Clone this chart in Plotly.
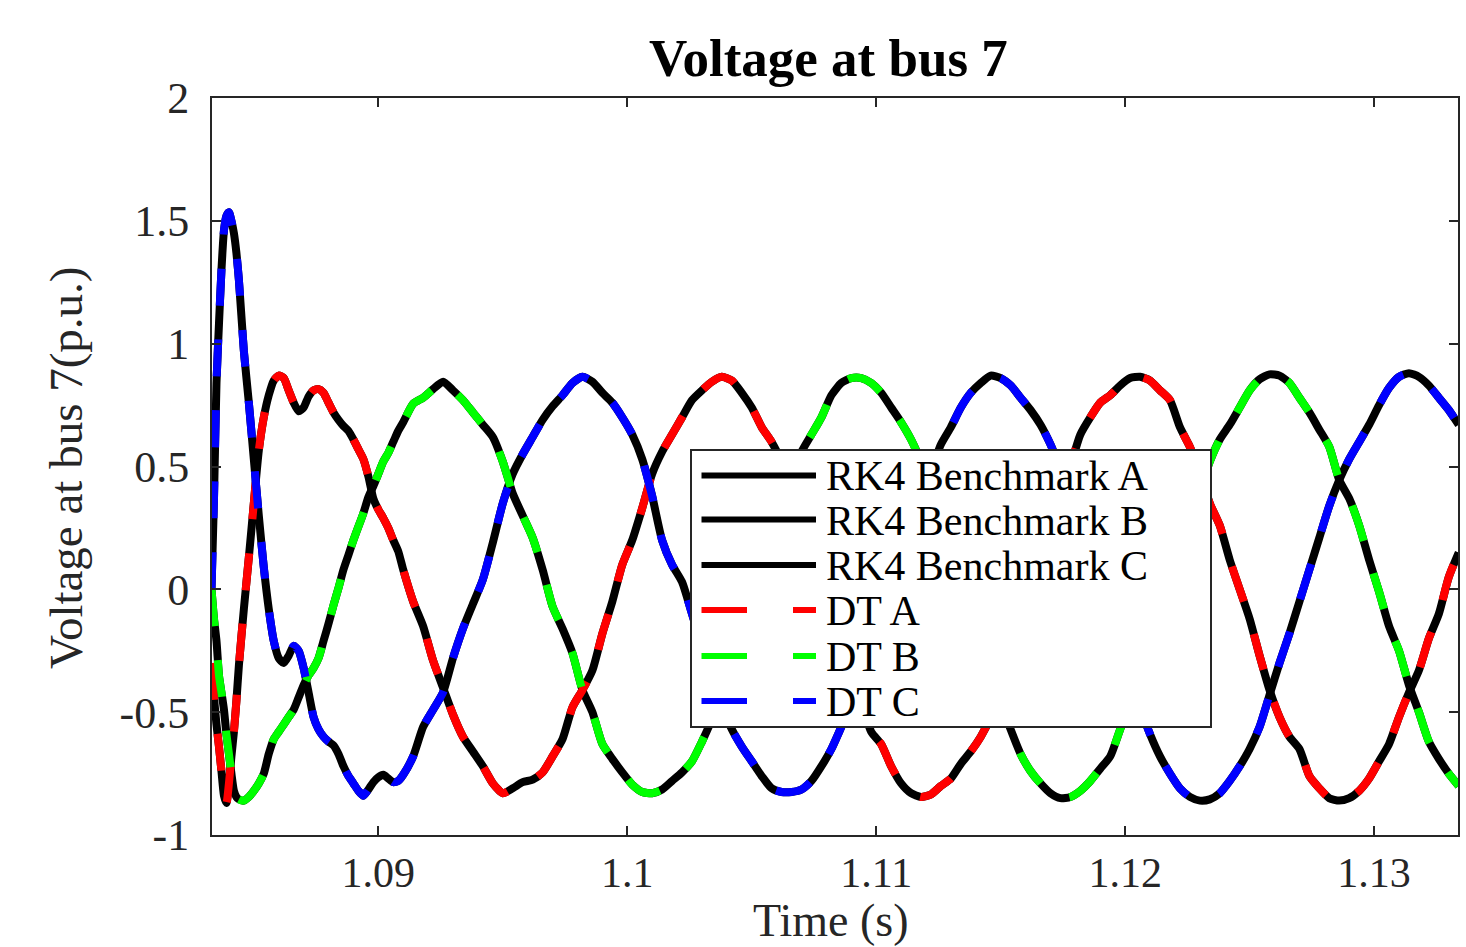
import plotly.graph_objects as go

# ---------------- data ----------------
t_fine = [1.0833, 1.0834, 1.0835, 1.0836, 1.0837, 1.0838, 1.0839, 1.0840, 1.0841, 1.0842, 1.0843, 1.0844]
t_mid = [1.0846, 1.0848, 1.0850, 1.0852, 1.0854, 1.0856, 1.0858, 1.0860, 1.0862, 1.0864,
         1.0866, 1.0868, 1.0870, 1.0872, 1.0874, 1.0876, 1.0878, 1.0880, 1.0882, 1.0884,
         1.0886, 1.0888, 1.0890, 1.0892, 1.0894, 1.0896, 1.0898, 1.0900, 1.0902, 1.0904,
         1.0906, 1.0908, 1.0910]
t_steady = [1.0914, 1.0918, 1.0922, 1.0926, 1.0930, 1.0934, 1.0938, 1.0942, 1.0946, 1.0950,
            1.0954, 1.0958, 1.0962, 1.0966, 1.0970, 1.0974, 1.0978, 1.0982, 1.0986, 1.0990,
            1.0994, 1.0998, 1.1002, 1.1006, 1.1010, 1.1014, 1.1018, 1.1022, 1.1026, 1.1030,
            1.1034, 1.1038, 1.1042, 1.1046, 1.1050, 1.1054, 1.1058, 1.1062, 1.1066, 1.1070,
            1.1074, 1.1078, 1.1082, 1.1086, 1.1090, 1.1094, 1.1098, 1.1102, 1.1106, 1.1110,
            1.1114, 1.1118, 1.1122, 1.1126, 1.1130, 1.1134, 1.1138, 1.1142, 1.1146, 1.1150,
            1.1154, 1.1158, 1.1162, 1.1166, 1.1170, 1.1174, 1.1178, 1.1182, 1.1186, 1.1190,
            1.1194, 1.1198, 1.1202, 1.1206, 1.1210, 1.1214, 1.1218, 1.1222, 1.1226, 1.1230,
            1.1234, 1.1238, 1.1242, 1.1246, 1.1250, 1.1254, 1.1258, 1.1262, 1.1266, 1.1270,
            1.1274, 1.1278, 1.1282, 1.1286, 1.1290, 1.1294, 1.1298, 1.1302, 1.1306, 1.1310,
            1.1314, 1.1318, 1.1322, 1.1326, 1.1330, 1.1334]

# Phase A (red)
va_fine = [-0.30, -0.44, -0.55, -0.64, -0.74, -0.84, -0.87, -0.79, -0.68, -0.58, -0.455, -0.31]
va_mid = [-0.08, 0.13, 0.35, 0.565, 0.70, 0.79, 0.85, 0.87, 0.86, 0.81,
          0.76, 0.725, 0.74, 0.785, 0.81, 0.815, 0.80, 0.76, 0.72, 0.69,
          0.665, 0.645, 0.61, 0.57, 0.53, 0.46, 0.37, 0.325, 0.29, 0.25,
          0.20, 0.155, 0.08]
va_steady = [-0.05, -0.15, -0.29, -0.40, -0.51, -0.60, -0.66, -0.72, -0.79, -0.83,
             -0.81, -0.785, -0.775, -0.745, -0.68, -0.61, -0.48, -0.41, -0.33, -0.18,
             -0.05, 0.10, 0.20, 0.33, 0.47, 0.56, 0.63, 0.70, 0.77, 0.81,
             0.845, 0.865, 0.85, 0.80, 0.74, 0.66, 0.60, 0.52, 0.42, 0.30,
             0.18, 0.06, -0.07, -0.20, -0.33, -0.46, -0.58, -0.63, -0.72, -0.79,
             -0.83, -0.845, -0.835, -0.80, -0.77, -0.71, -0.66, -0.60, -0.52, -0.41,
             -0.29, -0.16, -0.03, 0.10, 0.23, 0.36, 0.50, 0.63, 0.70, 0.76,
             0.79, 0.83, 0.86, 0.865, 0.85, 0.81, 0.77, 0.66, 0.58, 0.48,
             0.35, 0.26, 0.12, 0.00, -0.12, -0.27, -0.41, -0.52, -0.60, -0.65,
             -0.76, -0.81, -0.85, -0.86, -0.85, -0.82, -0.77, -0.70, -0.63, -0.52,
             -0.42, -0.33, -0.20, -0.10, 0.05, 0.15]

# Phase B (green)
vb_fine = [0.0, -0.12, -0.21, -0.35, -0.42, -0.49, -0.59, -0.67, -0.75, -0.82, -0.845, -0.855]
vb_mid = [-0.86, -0.845, -0.82, -0.79, -0.75, -0.67, -0.61, -0.58, -0.55, -0.52,
          -0.49, -0.44, -0.39, -0.35, -0.32, -0.28, -0.21, -0.14, -0.065, 0.005,
          0.08, 0.14, 0.20, 0.255, 0.31, 0.375, 0.42, 0.47, 0.52, 0.555,
          0.60, 0.645, 0.68]
vb_steady = [0.755, 0.78, 0.815, 0.845, 0.81, 0.77, 0.72, 0.67, 0.62, 0.52,
             0.39, 0.30, 0.21, 0.08, -0.07, -0.16, -0.26, -0.41, -0.50, -0.63,
             -0.69, -0.745, -0.795, -0.825, -0.83, -0.815, -0.78, -0.745, -0.70, -0.62,
             -0.53, -0.43, -0.31, -0.18, -0.05, 0.08, 0.21, 0.33, 0.45, 0.56,
             0.63, 0.70, 0.79, 0.84, 0.86, 0.86, 0.84, 0.80, 0.74, 0.68,
             0.61, 0.52, 0.41, 0.29, 0.16, 0.03, -0.10, -0.22, -0.34, -0.46,
             -0.57, -0.67, -0.74, -0.79, -0.83, -0.85, -0.845, -0.82, -0.78, -0.73,
             -0.68, -0.57, -0.47, -0.36, -0.24, -0.11, 0.02, 0.15, 0.28, 0.40,
             0.52, 0.61, 0.67, 0.74, 0.81, 0.855, 0.875, 0.87, 0.84, 0.78,
             0.72, 0.65, 0.58, 0.445, 0.37, 0.26, 0.12, -0.01, -0.15, -0.25,
             -0.39, -0.50, -0.62, -0.69, -0.75, -0.80]

# Phase C (blue)
vc_fine = [0.0, 0.37, 0.84, 1.08, 1.30, 1.46, 1.52, 1.535, 1.50, 1.45, 1.37, 1.26]
vc_mid = [0.97, 0.76, 0.53, 0.30, 0.09, -0.08, -0.21, -0.28, -0.30, -0.27,
          -0.23, -0.25, -0.32, -0.42, -0.52, -0.57, -0.60, -0.62, -0.635, -0.67,
          -0.72, -0.76, -0.79, -0.82, -0.84, -0.815, -0.785, -0.765, -0.755, -0.77,
          -0.785, -0.78, -0.755]
vc_steady = [-0.68, -0.56, -0.49, -0.42, -0.28, -0.16, -0.06, 0.04, 0.19, 0.35,
             0.47, 0.55, 0.62, 0.69, 0.745, 0.79, 0.84, 0.865, 0.845, 0.80,
             0.76, 0.70, 0.63, 0.53, 0.38, 0.20, 0.10, 0.03, -0.10, -0.23,
             -0.35, -0.47, -0.57, -0.64, -0.70, -0.76, -0.81, -0.825, -0.825, -0.815,
             -0.78, -0.72, -0.65, -0.56, -0.47, -0.37, -0.26, -0.13, -0.01, 0.11,
             0.24, 0.36, 0.48, 0.59, 0.66, 0.74, 0.80, 0.84, 0.87, 0.86,
             0.83, 0.78, 0.73, 0.67, 0.59, 0.49, 0.38, 0.26, 0.14, 0.01,
             -0.12, -0.24, -0.36, -0.48, -0.59, -0.68, -0.75, -0.81, -0.845, -0.86,
             -0.855, -0.83, -0.78, -0.72, -0.65, -0.56, -0.43, -0.30, -0.18, -0.05,
             0.08, 0.21, 0.34, 0.445, 0.53, 0.60, 0.67, 0.75, 0.82, 0.865,
             0.88, 0.865, 0.83, 0.78, 0.73, 0.67]

time = t_fine + t_mid + t_steady
phase_a = va_fine + va_mid + va_steady
phase_b = vb_fine + vb_mid + vb_steady
phase_c = vc_fine + vc_mid + vc_steady
for arr in (phase_a, phase_b, phase_c):
    assert len(arr) == len(time), (len(arr), len(time))

x_tickvals = [1.09, 1.10, 1.11, 1.12, 1.13]
x_ticktext = ["1.09", "1.1", "1.11", "1.12", "1.13"]
y_tickvals = [-1, -0.5, 0, 0.5, 1, 1.5, 2]
y_ticktext = ["-1", "-0.5", "0", "0.5", "1", "1.5", "2"]

legend_names = ["RK4 Benchmark A", "RK4 Benchmark B", "RK4 Benchmark C", "DT A", "DT B", "DT C"]
dt_colors = ["#ff0000", "#00ff00", "#0000ff"]

# ---------------- layout helpers ----------------
W, H = 1466, 947
L, R, T, B = 212, 8, 98, 112
FONT = "Liberation Serif, Times New Roman, serif"
AX = "#262626"


def px(xp):
    return (xp - L) / (W - L - R)


def py(yp):
    return (H - B - yp) / (H - T - B)


fig = go.Figure()
series = [phase_a, phase_b, phase_c]
for name, vals in zip(legend_names[:3], series):
    fig.add_trace(go.Scatter(x=time, y=vals, mode="lines", name=name, showlegend=False,
                             line=dict(color="black", width=8, shape="spline", smoothing=0.6)))
for name, vals, col in zip(legend_names[3:], series, dt_colors):
    fig.add_trace(go.Scatter(x=time, y=vals, mode="lines", name=name, showlegend=False,
                             line=dict(color=col, width=8, dash="37px,34px",
                                       shape="spline", smoothing=0.6)))

axis_common = dict(showline=True, linecolor=AX, linewidth=2, mirror="ticks",
                   ticks="inside", ticklen=9, tickwidth=2, tickcolor=AX,
                   showgrid=False, zeroline=False)

fig.update_xaxes(range=[1.08332, 1.13337], tickvals=x_tickvals, ticktext=x_ticktext,
                 ticklabelstandoff=0, tickfont=dict(family=FONT, size=42, color="#262626"),
                 **axis_common)
fig.update_yaxes(range=[-1, 2], tickvals=y_tickvals, ticktext=y_ticktext,
                 ticklabelstandoff=12, tickfont=dict(family=FONT, size=44, color="#262626"),
                 **axis_common)

shapes = []
annotations = []
# legend box
shapes.append(dict(type="rect", xref="paper", yref="paper", x0=px(691), x1=px(1211),
                   y0=py(727), y1=py(450), fillcolor="white", line=dict(color=AX, width=2),
                   layer="above"))
row_y = [475.5, 519.5, 565.0, 610.0, 656.0, 701.0]
for i, name in enumerate(legend_names):
    yy = py(row_y[i])
    if i < 3:
        shapes.append(dict(type="line", xref="paper", yref="paper", x0=px(701.5), x1=px(816),
                           y0=yy, y1=yy, line=dict(color="black", width=6), layer="above"))
    else:
        col = dt_colors[i - 3]
        shapes.append(dict(type="line", xref="paper", yref="paper", x0=px(701.5), x1=px(747),
                           y0=yy, y1=yy, line=dict(color=col, width=6), layer="above"))
        shapes.append(dict(type="line", xref="paper", yref="paper", x0=px(793), x1=px(816),
                           y0=yy, y1=yy, line=dict(color=col, width=6), layer="above"))
    annotations.append(dict(text=name, xref="paper", yref="paper", x=px(824), y=py(row_y[i] + 1),
                            xanchor="left", yanchor="middle", showarrow=False,
                            font=dict(family=FONT, size=42, color="black")))

# title and axis titles
annotations.append(dict(text="<b>Voltage at bus 7</b>", xref="paper", yref="paper",
                        x=px(828), y=py(58), xanchor="center", yanchor="middle", showarrow=False,
                        font=dict(family=FONT, size=53, color="black")))
annotations.append(dict(text="Time (s)", xref="paper", yref="paper",
                        x=px(831), y=py(921), xanchor="center", yanchor="middle", showarrow=False,
                        font=dict(family=FONT, size=46, color="#262626")))
annotations.append(dict(text="Voltage at bus 7(p.u.)", xref="paper", yref="paper",
                        x=px(66), y=py(468), xanchor="center", yanchor="middle", showarrow=False,
                        textangle=-90, font=dict(family=FONT, size=47, color="#262626")))

fig.update_layout(width=W, height=H, margin=dict(l=L, r=R, t=T, b=B, autoexpand=False),
                  paper_bgcolor="white", plot_bgcolor="white", showlegend=False,
                  shapes=shapes, annotations=annotations)

fig.write_html("out.html", config={"displayModeBar": False},
               post_script="document.body.style.margin='0';document.body.style.overflow='hidden';")
